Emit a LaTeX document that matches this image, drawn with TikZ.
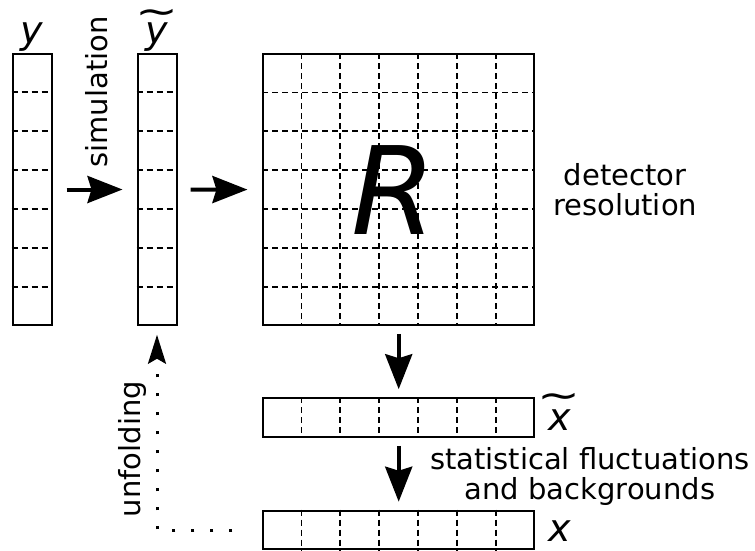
\documentclass[tikz,border=0pt]{standalone}
\usepackage{fontspec}
\usepackage{graphicx}
\setmainfont{DejaVu Sans}
\usetikzlibrary{calc, positioning, arrows.meta}

% wide tilde over a variable
\newcommand\wtilde[2]{\ooalign{#1\cr\hidewidth\raisebox{#2}{\upshape\scalebox{1.35}[1]{\textasciitilde}}\hidewidth\cr}}

\tikzset{
  binbox/.style={draw, line width=2pt, inner sep=0pt},
  vbins/.style={binbox, minimum width=39pt, minimum height=270.5pt},
  hbins/.style={binbox, minimum width=270.5pt, minimum height=38.6pt},
  binedge/.style={line width=1.7pt, dash pattern=on 6pt off 4pt},
  flowarrow/.style={-{Stealth[length=35pt, width=27pt, inset=4pt]}, line width=4pt, shorten <=8pt, shorten >=8pt},
  unfoldarrow/.style={-{Stealth[length=29pt, width=18pt, inset=5pt]}, line width=3pt, dash pattern=on 3pt off 16pt},
  lbl/.style={font=\fontsize{29}{30}\selectfont, align=center, inner sep=0pt},
  varlbl/.style={font=\fontsize{38}{38}\selectfont\itshape, inner sep=0pt},
}

\begin{document}
\begin{tikzpicture}[x=1pt, y=-1pt]
    \useasboundingbox (0,0) rectangle (755,550);

    % Binned spectra and the response matrix
    \node[vbins] (y) at (32,189.5) {};
    \node[vbins] (yt) at (157,189.5) {};
    \node[binbox, minimum size=270.5pt] (R) at (398.7,189.7) {};
    \node[hbins] (xt) at (398.7,417.5) {};
    \node[hbins] (x) at (398.7,530) {};

    % Dashed bin edges
    \foreach \i in {1,...,6} {
        \draw[binedge] ($(y.north west)!\i/7!(y.south west)$) -- ($(y.north east)!\i/7!(y.south east)$);
        \draw[binedge] ($(yt.north west)!\i/7!(yt.south west)$) -- ($(yt.north east)!\i/7!(yt.south east)$);
        \draw[binedge] ($(R.north west)!\i/7!(R.south west)$) -- ($(R.north east)!\i/7!(R.south east)$);
        \draw[binedge] ($(R.north west)!\i/7!(R.north east)$) -- ($(R.south west)!\i/7!(R.south east)$);
        \draw[binedge] ($(xt.north west)!\i/7!(xt.north east)$) -- ($(xt.south west)!\i/7!(xt.south east)$);
        \draw[binedge] ($(x.north west)!\i/7!(x.north east)$) -- ($(x.south west)!\i/7!(x.south east)$);
    }

    % Place the labels
    \node[varlbl, anchor=base] (ylabel) at ($(y.north)+(0,-10)$) {y};
    \node[varlbl, anchor=base] (ytlabel) at ($(yt.north)+(0,-10)$) {\wtilde{y}{19pt}};
    \node[font=\fontsize{122}{122}\selectfont\itshape, inner sep=0pt] (rlabel) at ($(R)+(-5,0)$) {R};
    \node[varlbl, anchor=base west] (xtlabel) at ($(xt.east)+(13,12.5)$) {\wtilde{x}{22pt}};
    \node[varlbl, anchor=base west] (xlabel) at ($(x.east)+(13,11)$) {x};

    \node[lbl, rotate=90] (sim) at (97,92) {simulation};
    \node[lbl, right=18pt of R] (det) {detector\\resolution};
    \node[lbl] (stat) at (590,476) {statistical fluctuations\\and backgrounds};
    \node[lbl, rotate=90] (unf) at (132,449) {unfolding};

    % Arrows
    \draw[flowarrow, shorten <=14pt, shorten >=14pt] (y) -- (yt);
    \draw[flowarrow, shorten <=13pt, shorten >=15pt] (yt) -- (R);
    \draw[flowarrow] (R) -- (xt);
    \draw[flowarrow] (xt) -- (x);
    \draw[unfoldarrow, shorten <=30pt, shorten >=9pt] (x.west) -| (yt.south);
\end{tikzpicture}
\end{document}
